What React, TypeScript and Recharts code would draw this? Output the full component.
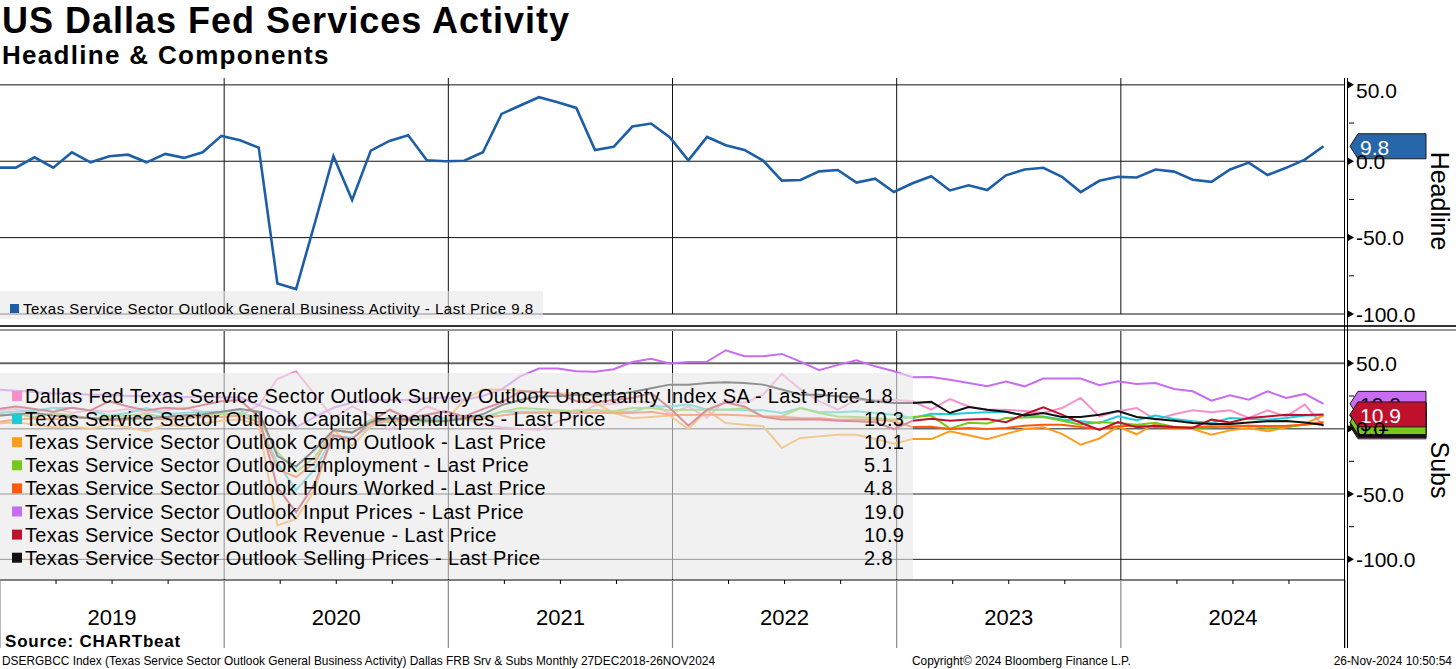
import React from "react";
import { LineChart, Line, XAxis, YAxis, ReferenceLine } from "recharts";

const FONT = "'Liberation Sans', Arial, sans-serif";

// monthly points, Dec 2018 .. Nov 2024
const years = ["2019", "2020", "2021", "2022", "2023", "2024"];
const yearLines = [12, 24, 36, 48, 60];
const quarterTicks = [0, 3, 6, 9, 12, 15, 18, 21, 24, 27, 30, 33, 36, 39, 42, 45, 48, 51, 54, 57, 60, 63, 66, 69, 72];

const headline = [
  -4.2, -4.2, 2.6, -4.2, 5.9, -0.7, 3.3, 4.3, -0.7, 4.8, 2.2, 5.9,
  16.6, 13.7, 8.9, -80.0, -83.7, -40.6, 3.3, -25.4, 7.0, 13.3, 17.0, 0.6,
  0.0, 0.3, 5.9, 31.0, 36.5, 41.9, 38.6, 34.9, 7.4, 9.4, 22.7, 24.7,
  15.7, 0.6, 15.9, 10.5, 7.4, 0.4, -12.7, -12.3, -6.6, -5.7, -14.0, -11.4,
  -20.1, -14.4, -9.8, -19.1, -15.7, -18.9, -9.2, -5.4, -4.3, -10.2, -20.2, -12.8,
  -10.2, -10.6, -5.4, -6.8, -12.1, -13.5, -5.4, -0.9, -9.0, -4.3, 1.1, 9.8,
];

const uncertainty = [
  14, 15, 13, 16, 12, 14, 13, 15, 12, 14, 16, 13,
  12, 10, 18, 38, 44, 26, 8, 17, 10, -1, 8, 17,
  12, 8, 3, 1, 0, -1, 5.6, 10, 18, 19, 21, 20,
  11.5, 17, 8.4, 22, 19.6, 26, 41.9, 30, 21, 14.5, 22, 22,
  22, 21, 14.5, 22.7, 17, 14.5, 14.5, 13.5, 12, 15.8, 23.5, 9.4,
  13.3, 15.8, 6.9, 11, 14, 12.5, 14, 8.2, 14, 9.4, 18.4, 1.8,
];

const capex = [
  12, 13, 14, 15.8, 15.8, 14, 10, 12, 15.8, 11, 12, 13,
  13, 14.5, 4, -26, -47, -31, -6, -7, 2, 9, 7, 8,
  8, 8, 9, 13, 13, 13, 12, 14, 14, 13, 13, 17,
  17, 18.4, 14.5, 14.5, 14, 14, 12, 15.8, 12.5, 12.5, 13.3, 12,
  10.7, 8, 11.5, 11, 12, 12.5, 13, 10, 9.4, 7, 5.6, 4.3,
  9.4, 6.4, 10, 7.4, 5.6, 4.3, 8.2, 7.4, 6.9, 8.2, 10, 10.3,
];

const compOutlook = [
  4, 5, 3, 1, 2, 0, 3, 1, -2, 3, 2, 4,
  6, 7, 3, -74, -69, -47, -1, -13, 2, 8, 6, 5,
  6, 22, 30, 30, 29, 28, 27, 27, 20, 12, 8, 9,
  10, -0.3, 14, 4.3, 3, 1.8, -14.8, -7.1, -5.9, -4.6, -4.6, -7.9,
  -11.5, -8, -8, -2, -5, -8, -4, -0.3, 1, -4, -12.3, -7.5,
  1.5, -4.3, 4, 1, -0.3, -4.6, -1.3, 0.5, -2, 0.8, 3.8, 10.1,
];

const employment = [
  10, 11, 9, 12, 10, 8, 9, 10, 11, 9, 10, 10,
  11, 12, 8, -18, -33, -22, -1, -3, 7, 5, 6, 5,
  6, 7, 7, 13, 15.8, 15, 14, 13.3, 14, 13.3, 15.8, 15.8,
  14, 14.5, 14.5, 14.5, 15.8, 9.4, 9.5, 15.8, 12, 9.4, 9, 8.2,
  6.9, 9, 10, 0, 4.5, 4, 8.2, 8.5, 8.9, 6, 3, 5,
  4.3, 3, 4.5, 1.3, 0.5, 1, 2.3, 2.3, 0.5, 1.3, 3, 5.1,
];

const hoursWorked = [
  5, 7, 8, 7, 9, 8, 6, 7, 8, 7, 8, 9,
  9, 10, 5, -31, -37, -26, -1, -3, 4, 6, 6, 7,
  6, 8, 8, 10, 12, 12, 13, 12, 12, 12, 12, 13,
  10.7, 10.5, 10.7, 10.7, 10, 9.4, 9, 8.2, 8, 6.9, 7, 6.9,
  5.6, 1.3, 1.5, -0.3, 0.5, -0.3, 0.5, 2.3, 3, 3, 1.3, -0.3,
  1.8, 2.3, 1.3, 0.5, 1, 1.8, 1.3, 2.3, 2, 2.3, 3, 4.8,
];

const inputPrices = [
  30, 29, 28, 27, 27, 26, 26, 25, 25, 26, 24, 25,
  24, 24, 18, 13, 1, 9, 16, 20, 22, 22, 22, 23,
  24, 22, 25, 30, 40, 46, 46, 44, 43.6, 45.5, 51, 53.5,
  49.8, 51, 51.3, 60, 55.4, 55.4, 57.2, 51.3, 44.7, 48.8, 52.3, 47.7,
  43.9, 39.3, 39.5, 37.5, 35, 32.4, 36, 32.4, 38.3, 38.3, 38.3, 33.2,
  36.2, 34.2, 35, 30.4, 28.6, 21.4, 25.5, 22.2, 28.6, 23.5, 26.6, 19.0,
];

const revenue = [
  15, 17, 15, 13, 16, 14, 21, 17, 14, 16, 15, 18,
  21, 22, 9, -45, -64, -42, -5, -8, 5, 14.5, 8, 10.7,
  13.3, 9.4, 15, 20, 28.6, 28, 27.3, 21, 20, 22, 23.5, 27.3,
  15.8, 2.3, 14.5, 20, 17, 9, 7, 7, 7, 6, 5.6, 5,
  -0.3, 6, 7.5, 6, 7, 7.4, 5, 11, 16.3, 10.7, 4.5, -1,
  5, 1, 2.3, 1.3, 0.5, 6.9, 4.8, 8.2, 9.4, 10.7, 10.5, 10.9,
];

const sellingPrices = [
  10, 11, 12, 10, 9, 8, 7, 8, 8, 9, 10, 11,
  13, 15, 13, -21, -29, -16, -1, -3, 5, 8, 7, 6,
  5.6, 8, 11, 18, 22, 24.8, 24.8, 26, 26, 26, 28, 31,
  33.7, 33.7, 35, 35.5, 35, 33.7, 30, 26, 26, 24.8, 23.5, 21,
  19.7, 19.7, 20.5, 12, 16.5, 14.5, 13, 10, 12, 9, 9, 10.7,
  13.5, 9, 7.4, 6, 4.3, 3.5, 3.6, 4.8, 5.6, 5.8, 4.8, 2.8,
];

const subs = [
  { key: "uncertainty", values: uncertainty, color: "#f78fca", tagText: "#000", last: "1.8",
    name: "Dallas Fed Texas Service Sector Outlook Survey Outlook Uncertainty Index SA - Last Price" },
  { key: "capex", values: capex, color: "#1ecbd6", tagText: "#000", last: "10.3",
    name: "Texas Service Sector Outlook Capital Expenditures - Last Price" },
  { key: "comp", values: compOutlook, color: "#ff9c1e", tagText: "#000", last: "10.1",
    name: "Texas Service Sector Outlook Comp Outlook - Last Price" },
  { key: "employment", values: employment, color: "#76c81a", tagText: "#000", last: "5.1",
    name: "Texas Service Sector Outlook Employment - Last Price" },
  { key: "hours", values: hoursWorked, color: "#ff5a0c", tagText: "#000", last: "4.8",
    name: "Texas Service Sector Outlook Hours Worked - Last Price" },
  { key: "input", values: inputPrices, color: "#c86cf2", tagText: "#000", last: "19.0",
    name: "Texas Service Sector Outlook Input Prices - Last Price" },
  { key: "revenue", values: revenue, color: "#c0112c", tagText: "#fff", last: "10.9",
    name: "Texas Service Sector Outlook Revenue - Last Price" },
  { key: "selling", values: sellingPrices, color: "#111111", tagText: "#fff", last: "2.8",
    name: "Texas Service Sector Outlook Selling Prices - Last Price" },
];

// tags stacked so that revenue ends up in front; only the visible ones carry text
const tagOrder = ["uncertainty", "selling", "hours", "comp", "capex", "employment", "input", "revenue"];
const tagsWithText = ["employment", "input", "revenue"];

const data = headline.map((h, i) => {
  const row: Record<string, number> = { t: i - 0.15, headline: h };
  subs.forEach((s) => {
    row[s.key] = s.values[i];
  });
  return row;
});

const AxisTick = (props: any) => {
  const { x, y, payload, shiftTop } = props;
  const v = payload.value as number;
  if (v % 50 !== 0) {
    return <line x1={x + 4} x2={x + 9} y1={y} y2={y} stroke="#000" strokeWidth={1} />;
  }
  return (
    <g>
      <polygon points={`${x + 3},${y - 3.5} ${x + 9},${y} ${x + 3},${y + 3.5}`} fill="#000" />
      <text x={x + 11} y={y + (shiftTop && v === 50 ? 6 : 0)} dominantBaseline="central"
        fontSize={21} fill="#000" fontFamily={FONT}>
        {v.toFixed(1)}
      </text>
    </g>
  );
};

const YearTick = (props: any) => {
  const { x, y, payload } = props;
  const v = payload.value as number;
  if (v % 12 === 0) {
    return <line x1={x} x2={x} y1={y} y2={y + 68} stroke="#8a8a8a" strokeWidth={1.2} />;
  }
  return (
    <g>
      <line x1={x} x2={x} y1={y} y2={y + 4} stroke="#000" />
      {v % 12 === 6 && (
        <text x={x} y={y + 45} textAnchor="middle" fontSize={22} fill="#000" fontFamily={FONT}>
          {years[(v - 6) / 12]}
        </text>
      )}
    </g>
  );
};

const valueTag = (text: string | null, fill: string, color: string) => (props: any) => {
  const vb = props.viewBox || {};
  const x = (vb.x ?? 0) + (vb.width ?? 0);
  const y = vb.y ?? 0;
  const h = 12.5;
  return (
    <g>
      <polygon
        points={`${x + 5},${y} ${x + 13},${y - h} ${x + 81},${y - h} ${x + 81},${y + h} ${x + 13},${y + h}`}
        fill={fill} stroke="#1a1a1a" strokeWidth={1} />
      {text && (
        <text x={x + 15} y={y + 1} dominantBaseline="central" fontSize={21} fill={color} fontFamily={FONT}>
          {text}
        </text>
      )}
    </g>
  );
};

const legendRowY = (k: number) => 396 + k * 23.1;

export default function App() {
  return (
    <div style={{ position: "absolute", left: 0, top: 0, width: 1456, height: 669, background: "#fff", fontFamily: FONT, overflow: "hidden" }}>
      {/* Headline panel */}
      <div style={{ position: "absolute", left: 0, top: 0 }}>
        <LineChart width={1456} height={330} data={data} margin={{ top: 78, right: 0, bottom: 16, left: 0 }}>
          <XAxis dataKey="t" type="number" domain={[0, 72]} allowDataOverflow hide />
          <YAxis orientation="right" width={111} domain={[-100, 54.5]} allowDataOverflow
            ticks={[-100, -75, -50, -25, 0, 25, 50]} interval={0} axisLine={false} tickLine={false}
            tickSize={0} tickMargin={0} tick={(p: any) => <AxisTick {...p} shiftTop />} />
          {[-100, -50, 0, 50].map((v) => (
            <ReferenceLine key={`h${v}`} y={v} stroke="#111" strokeWidth={1} />
          ))}
          {yearLines.map((v) => (
            <ReferenceLine key={`v${v}`} x={v} stroke="#111" strokeWidth={1} />
          ))}
          <Line dataKey="headline" stroke="#1d5ea7" strokeWidth={2.6} dot={false} isAnimationActive={false} />
          <ReferenceLine y={9.8} stroke="none" label={valueTag("9.8", "#2766a8", "#fff")} />
        </LineChart>
      </div>

      {/* Components panel */}
      <div style={{ position: "absolute", left: 0, top: 320 }}>
        <LineChart width={1456} height={340} data={data} margin={{ top: 10, right: 0, bottom: 12, left: 0 }}>
          <XAxis dataKey="t" type="number" domain={[0, 72]} allowDataOverflow ticks={quarterTicks}
            interval={0} height={68} tickSize={0} tickMargin={0} tickLine={false}
            axisLine={{ stroke: "#000" }} tick={(p: any) => <YearTick {...p} />} />
          <YAxis orientation="right" width={111} domain={[-115.8, 75.5]} allowDataOverflow
            ticks={[-100, -75, -50, -25, 0, 25, 50]} interval={0} axisLine={false} tickLine={false}
            tickSize={0} tickMargin={0} tick={(p: any) => <AxisTick {...p} />} />
          <ReferenceLine y={50} stroke="#666" strokeWidth={2} />
          <ReferenceLine y={0} stroke="#666" strokeWidth={1.5} />
          <ReferenceLine y={-50} stroke="#222" strokeWidth={1} />
          <ReferenceLine y={-100} stroke="#222" strokeWidth={1} />
          {yearLines.map((v) => (
            <ReferenceLine key={`v${v}`} x={v} stroke="#111" strokeWidth={1} />
          ))}
          {subs.map((s) => (
            <Line key={s.key} dataKey={s.key} stroke={s.color} strokeWidth={2} dot={false} isAnimationActive={false} />
          ))}
          {tagOrder.map((k) => {
            const s = subs.find((q) => q.key === k)!;
            return (
              <ReferenceLine key={`tag${k}`} y={parseFloat(s.last)} stroke="none"
                label={valueTag(tagsWithText.includes(k) ? s.last : null, s.color, s.tagText)} />
            );
          })}
        </LineChart>
      </div>

      {/* overlay: titles, legends, frame */}
      <svg width={1456} height={669} style={{ position: "absolute", left: 0, top: 0, pointerEvents: "none" }}>
        <text x={2} y={33} fontSize={36} fontWeight="bold" fontFamily={FONT} letterSpacing={1}>US Dallas Fed Services Activity</text>
        <text x={2} y={64} fontSize={26} fontWeight="bold" fontFamily={FONT} letterSpacing={1.3}>Headline &amp; Components</text>

        {/* panel separator and right axis frame */}
        <rect x={0} y={325} width={1456} height={2} fill="#333" />
        <rect x={0} y={329} width={1456} height={2} fill="#999" />
        <line x1={1344.5} x2={1344.5} y1={78} y2={648} stroke="#000" strokeWidth={1} />
        <line x1={1347.5} x2={1347.5} y1={78} y2={648} stroke="#000" strokeWidth={1} />

        <text transform="translate(1440,201) rotate(90)" textAnchor="middle" dominantBaseline="central" fontSize={25} fontFamily={FONT}>Headline</text>
        <text transform="translate(1440,470) rotate(90)" textAnchor="middle" dominantBaseline="central" fontSize={25} fontFamily={FONT}>Subs</text>

        {/* headline legend */}
        <rect x={0} y={291} width={543} height={28} fill="rgb(232,232,232)" fillOpacity={0.6} />
        <rect x={10} y={304} width={9} height={9} fill="#1d5ea7" />
        <text x={23} y={314} fontSize={15} letterSpacing={0.5} fontFamily={FONT}>Texas Service Sector Outlook General Business Activity - Last Price 9.8</text>

        {/* components legend */}
        <rect x={0} y={373} width={913} height={206} fill="rgb(232,232,232)" fillOpacity={0.6} />
        {subs.map((s, k) => (
          <g key={s.key}>
            <rect x={12} y={legendRowY(k) - 5} width={10} height={10} fill={s.color} />
            <text x={25} y={legendRowY(k) + 7} fontSize={20} letterSpacing={0.35} fontFamily={FONT}>{s.name}</text>
            <text x={864} y={legendRowY(k) + 7} fontSize={20} letterSpacing={0.35} fontFamily={FONT}>{s.last}</text>
          </g>
        ))}

        {/* footer */}
        <text x={5} y={647} fontSize={17} fontWeight="bold" fontFamily={FONT} letterSpacing={0.8}>Source:  CHARTbeat</text>
        <text x={2} y={665} fontSize={11.9} fontFamily={FONT}>DSERGBCC Index (Texas Service Sector Outlook General Business Activity) Dallas FRB Srv &amp; Subs  Monthly 27DEC2018-26NOV2024</text>
        <text x={912} y={665} fontSize={11.9} fontFamily={FONT}>Copyright© 2024 Bloomberg Finance L.P.</text>
        <text x={1452} y={665} fontSize={11.9} fontFamily={FONT} textAnchor="end">26-Nov-2024 10:50:54</text>
      </svg>
    </div>
  );
}
